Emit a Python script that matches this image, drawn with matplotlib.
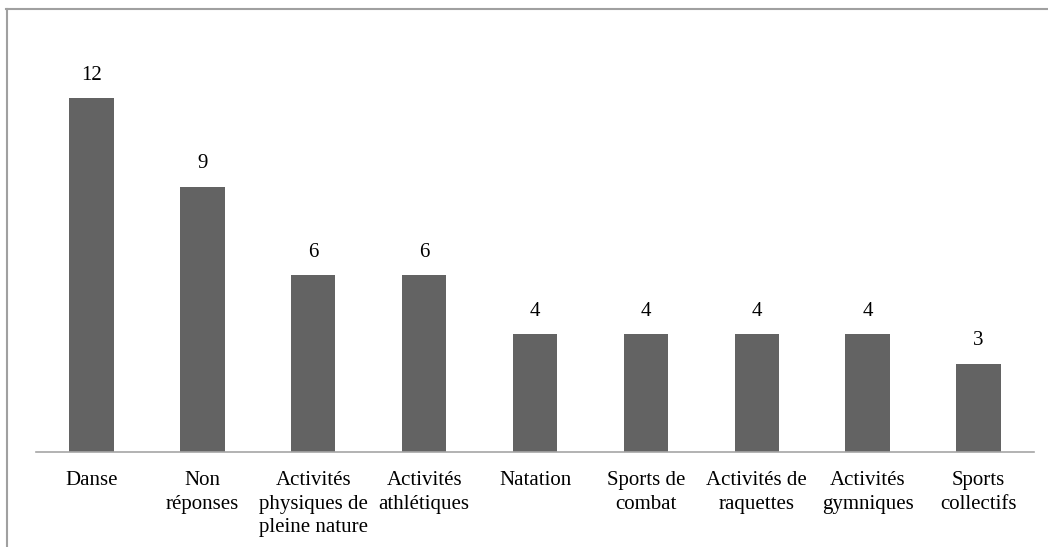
import matplotlib
matplotlib.use("Agg")
import matplotlib.pyplot as plt
from matplotlib.lines import Line2D

categories = ["Danse", "Non\nréponses", "Activités\nphysiques de\npleine nature",
              "Activités\nathlétiques", "Natation", "Sports de\ncombat",
              "Activités de\nraquettes", "Activités\ngymniques", "Sports\ncollectifs"]
values = [12, 9, 6, 6, 4, 4, 4, 4, 3]

plt.rcParams['font.family'] = ['Liberation Serif', 'DejaVu Serif']

W, H = 1048, 547
fig = plt.figure(figsize=(W / 100, H / 100), dpi=100)
ax = fig.add_axes([36 / W, 1 - 452 / H, (1034 - 36) / W, (452 - 39) / H])

x = range(len(categories))
bars = ax.bar(x, values, width=0.4, color="#636363")
for b, v in zip(bars, values):
    ax.text(b.get_x() + b.get_width() / 2, v + 0.45, str(v),
            ha="center", va="bottom", fontsize=15)

ax.set_xlim(-0.5, len(categories) - 0.5)
ax.set_ylim(0, 14)
ax.set_xticks(list(x))
ax.set_xticklabels(categories, fontsize=15, linespacing=1.3)
ax.tick_params(axis="x", length=0, pad=14)
ax.set_yticks([])
for s in ["top", "right", "left"]:
    ax.spines[s].set_visible(False)
ax.spines["bottom"].set_color("#a6a6a6")
ax.spines["bottom"].set_linewidth(1.2)

# outer frame, cut off at right and bottom
fig.add_artist(Line2D([6 / W, 1], [1 - 9 / H, 1 - 9 / H], color="#a0a0a0", lw=1.5))
fig.add_artist(Line2D([6.5 / W, 6.5 / W], [0, 1 - 9 / H], color="#a0a0a0", lw=1.5))

fig.savefig("out.png", dpi=100)
